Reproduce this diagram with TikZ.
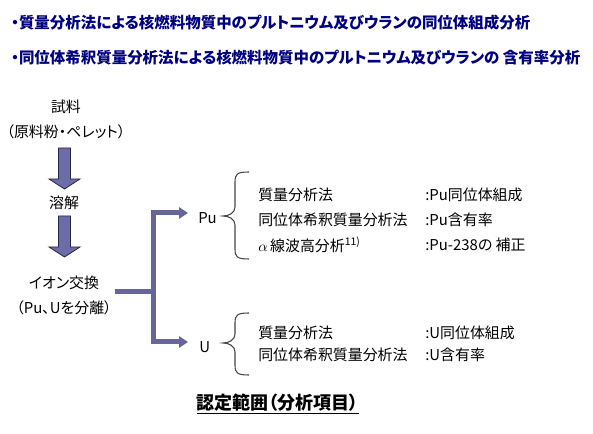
\documentclass[tikz,border=0pt]{standalone}
\usepackage{fontspec}
\setmainfont{Noto Sans CJK JP}[RawFeature={+palt}]
\usepackage{tikz}
\usetikzlibrary{arrows.meta, positioning, calc}
\definecolor{titlenavy}{RGB}{0, 0, 128}
\definecolor{flowblue}{RGB}{102, 102, 153}
\definecolor{blockfill}{RGB}{108, 108, 168}
\definecolor{blockedge}{RGB}{40, 40, 70}
\definecolor{bracegray}{RGB}{70, 70, 70}

\begin{document}
\begin{tikzpicture}[
    x=0.75pt, y=-0.75pt,
    heading/.style={anchor=west, inner sep=0pt, text=titlenavy,
                    font=\fontsize{11.6}{14}\selectfont\bfseries},
    stage/.style={align=center, inner sep=2pt,
                  font=\fontsize{11.2}{18.75}\selectfont},
    item/.style={anchor=west, inner sep=0pt, font=\fontsize{11.2}{13}\selectfont},
    branch/.style={line width=3.75pt, flowblue},
    tipboth/.style={{Triangle[length=6.75pt, width=8.5pt]}-{Triangle[length=6.75pt, width=8.5pt]}},
    curly/.style={bracegray, line width=0.8pt},
    downarr/.pic={\draw[fill=blockfill, draw=blockedge, line width=0.6pt]
        (-6,0) -- (6,0) -- (6,31) -- (15.5,31) -- (0,41) -- (-15.5,31) -- (-6,31) -- cycle;}
]

\fill[white] (0,0) rectangle (593,434);
\useasboundingbox (0,0) rectangle (593,434);

\node[heading] (aim1) at (11,23) {・質量分析法による核燃料物質中のプルトニウム及びウランの同位体組成分析};
\node[heading] (aim2) at (11,58) {・同位体希釈質量分析法による核燃料物質中のプルトニウム及びウランの 含有率分析};

\node[stage] (sample)   at (66,119.5) {試料\\（原料粉・ペレット）};
\node[stage] (dissolve) at (64,203)   {溶解};
\node[stage] (ionex)    at (64,295.5) {イオン交換\\（Pu、Uを分離）};
\pic at (64.5,148) {downarr};
\pic at (64.5,216) {downarr};

\node[item] (pu) at (198,218.5) {Pu};
\node[item] (u)  at (199,347)   {U};
\coordinate (fork) at (153,292);

% Arrows
\draw[branch] (ionex.east |- fork) -- (fork);
\draw[branch, tipboth] ($(pu.west)+(-10,-5.5)$) -| (fork) |- ($(u.west)+(-11,-5)$);

% Braces
\draw[curly] (249,172) .. controls (237,172) and (235,174) .. (235,182) -- (235,207)
    .. controls (235,213) and (229,216) .. (223,216) .. controls (229,216) and (235,219) .. (235,225)
    -- (235,249) .. controls (235,257) and (237,259) .. (249,259);
\draw[curly] (249,313) .. controls (237,313) and (235,315) .. (235,323) -- (235,334)
    .. controls (235,340) and (229,343) .. (223,343) .. controls (229,343) and (235,346) .. (235,352)
    -- (235,365) .. controls (235,373) and (237,375) .. (249,375);

\node[item] (pumass)  at (258,195) {質量分析法};
\node[item] (puidms)  at (258,220) {同位体希釈質量分析法};
\node[item] (pualpha) at (258,245) {$\alpha$\,線波高分析\textsuperscript{11)}};
\node[item] (puiso)   at (425,195) {:Pu同位体組成};
\node[item] (pucont)  at (425,220) {:Pu含有率};
\node[item] (pucorr)  at (425,245) {:Pu-238の 補正};

\node[item] (umass)   at (258,333) {質量分析法};
\node[item] (uidms)   at (258,355) {同位体希釈質量分析法};
\node[item] (uiso)    at (425,333) {:U同位体組成};
\node[item] (ucont)   at (425,355) {:U含有率};

\node[font=\fontsize{13.5}{16}\selectfont\bfseries] (scope) at (277.5,404) {\underline{認定範囲（分析項目）}};

\end{tikzpicture}
\end{document}
